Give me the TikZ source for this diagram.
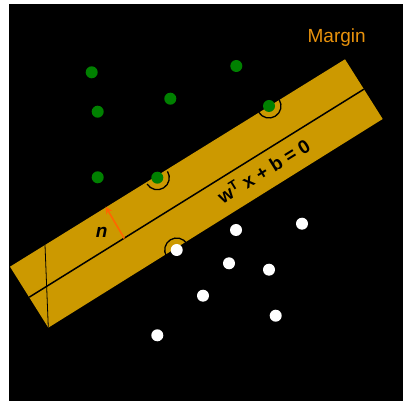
\documentclass[tikz,border=0pt]{standalone}
\usepackage{fontspec}
\setmainfont{Liberation Sans}
\usepackage{tikz}
\usetikzlibrary{arrows.meta,calc}
\definecolor{band}{RGB}{204,153,0}
\definecolor{margtxt}{RGB}{232,146,12}
\definecolor{ptgreen}{RGB}{0,128,0}
\definecolor{nvec}{RGB}{255,102,0}

\begin{document}
\begin{tikzpicture}[x=1pt,y=1pt,
  gpt/.style={circle,fill=ptgreen,inner sep=0pt,minimum size=12pt},
  wpt/.style={circle,fill=white,inner sep=0pt,minimum size=12pt},
  sv/.style={black,line width=1.3pt}]
\useasboundingbox (0,0) rectangle (403,401);
\fill[white] (0,0) rectangle (403,401);
\fill[black] (9,0) rectangle (403,397);
% margin band
\coordinate (A) at (10,134.3);   \coordinate (B) at (48.3,73.3);
\coordinate (C) at (382.7,282);  \coordinate (D) at (345,341.7);
\fill[band] (A) -- (B) -- (C) -- (D) -- cycle;
\coordinate (L) at (29.2,103.8); \coordinate (R) at (363.9,311.8);
\draw[line width=1.5pt] (L) -- (R);
\coordinate (T) at (45,156);
\draw[line width=0.8pt] (T) -- (B);
% normal vector
\coordinate (N0) at (124.3,162.5); \coordinate (N1) at (105.7,194.3);
\draw[nvec,line width=1.6pt,-{Stealth[length=7pt,width=7pt]}] (N0) -- (N1);
\node[font=\fontsize{19}{19}\selectfont\bfseries\itshape] (n) at (101.7,168.3) {n};
\node[font=\fontsize{19}{19}\selectfont\bfseries,rotate=31.76] (hyp) at (263.3,230.2)
  {w\textsuperscript{T} x + b = 0};
\node[margtxt,font=\fontsize{19}{19}\selectfont] (mg) at (336.7,363.7) {Margin};
% class one
\node[gpt] (g1) at (91.7,328.7) {};
\node[gpt] (g2) at (236.3,335) {};
\node[gpt] (g3) at (170.3,302.3) {};
\node[gpt] (g4) at (97.7,289.3) {};
\node[gpt] (g5) at (269,295) {};
\node[gpt] (g6) at (97.7,223.7) {};
\node[gpt] (g7) at (157.3,223.3) {};
% class two
\node[wpt] (w1) at (236,171) {};
\node[wpt] (w2) at (302,177.3) {};
\node[wpt] (w3) at (176.7,151) {};
\node[wpt] (w4) at (229,137.7) {};
\node[wpt] (w5) at (269,131.3) {};
\node[wpt] (w6) at (203,105.3) {};
\node[wpt] (w7) at (275.7,85.3) {};
\node[wpt] (w8) at (157.3,65.7) {};
% support vectors
\draw[sv] ($(g5)+(211.76:12)$) arc[start angle=211.76,end angle=391.76,radius=12];
\draw[sv] ($(g7)+(211.76:12)$) arc[start angle=211.76,end angle=391.76,radius=12];
\draw[sv] ($(w3)+(31.76:12)$) arc[start angle=31.76,end angle=211.76,radius=12];
\end{tikzpicture}
\end{document}
